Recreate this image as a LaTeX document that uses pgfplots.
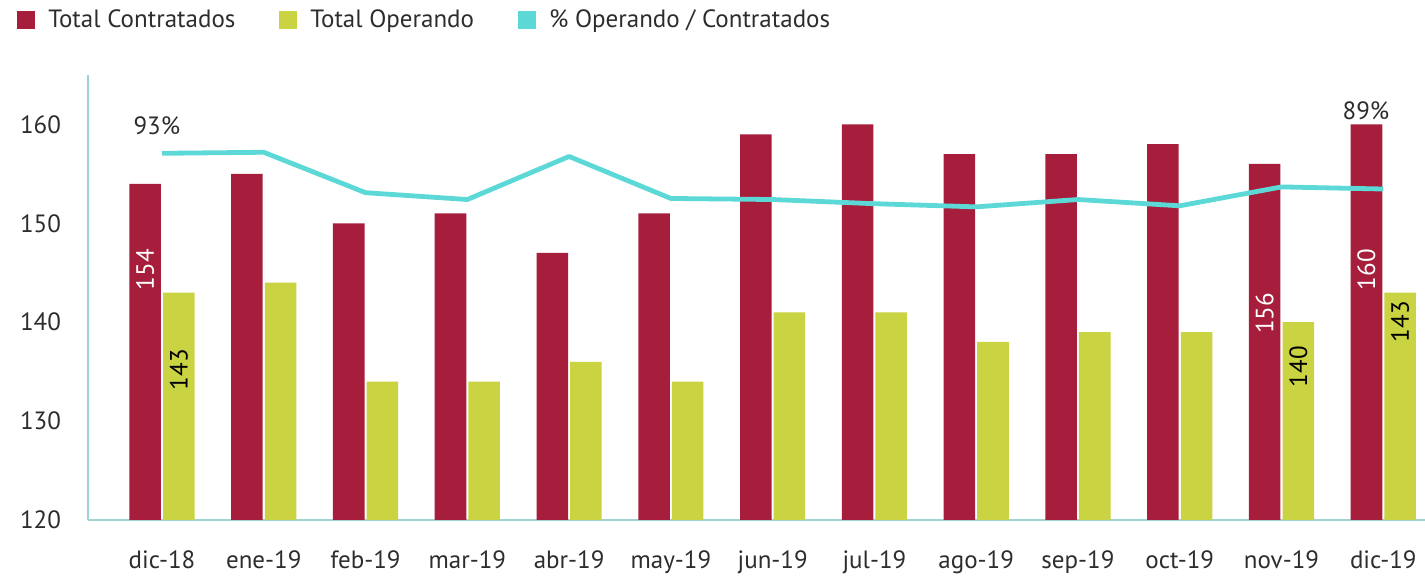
\documentclass[border=0pt]{standalone}
\usepackage{pgfplots}
\pgfplotsset{compat=1.18}
\usepackage{pgfplotstable}
\usepackage{fontspec}
\setmainfont{PT Sans}
\definecolor{cred}{RGB}{166,30,60}
\definecolor{cyel}{RGB}{202,211,66}
\definecolor{ccyan}{RGB}{92,216,214}
\definecolor{caxis}{RGB}{160,212,212}
\definecolor{ctext}{RGB}{45,45,45}

\pgfplotstableread{
x c o
0 154 143
1 155 144
2 150 134
3 151 134
4 147 136
5 151 134
6 159 141
7 160 141
8 157 138
9 157 139
10 158 139
11 156 140
12 160 143
}\data

\pgfplotstableread{
x p
0 92.9
1 93.0
2 89.15
3 88.5
4 92.6
5 88.6
6 88.5
7 88.1
8 87.8
9 88.5
10 87.9
11 89.7
12 89.5
}\pct

\begin{document}
\begin{tikzpicture}
\begin{axis}[
  at={(44pt,31pt)}, anchor=south west, scale only axis,
  width=668.5pt, height=222.5pt,
  xmin=-0.727, xmax=12.41, ymin=120, ymax=165,
  axis x line=bottom, axis y line=left,
  axis line style={caxis, line width=0.6pt, -},
  xtick={0,...,12},
  xticklabels={dic-18,ene-19,feb-19,mar-19,abr-19,may-19,jun-19,jul-19,ago-19,sep-19,oct-19,nov-19,dic-19},
  ytick={120,130,140,150,160},
  major tick length=0pt,
  tick label style={font=\fontsize{12.5}{15}\selectfont, text=ctext},
  /pgf/number format/assume math mode=true,
  yticklabel style={xshift=-10pt},
  xticklabel style={yshift=-12pt},
  legend style={at={(-0.0576,1.124)}, anchor=west, draw=none, fill=none,
    font=\fontsize{12.5}{15}\selectfont, text=ctext,
    /tikz/every even column/.append style={column sep=20pt}},
  legend columns=3,
  legend cell align=left,
]
\addplot[ybar, bar width=0.31, bar shift=-0.165, fill=cred, draw=none,
  legend image code/.code={\fill[cred,draw=none] (0pt,-4.5pt) rectangle (9pt,4.5pt); \path[draw=none,fill=none] (0pt,0pt) -- (13.5pt,0pt);}]
  table[x=x,y=c]{\data};
\addlegendentry{Total Contratados}
\addplot[ybar, bar width=0.31, bar shift=0.165, fill=cyel, draw=none,
  legend image code/.code={\fill[cyel,draw=none] (0pt,-4.5pt) rectangle (9pt,4.5pt); \path[draw=none,fill=none] (0pt,0pt) -- (13.5pt,0pt);}]
  table[x=x,y=o]{\data};
\addlegendentry{Total Operando\hspace{5pt}}
\addlegendimage{draw=none, legend image code/.code={\fill[ccyan,draw=none] (0pt,-4.5pt) rectangle (9pt,4.5pt); \path[draw=none,fill=none] (0pt,0pt) -- (13.5pt,0pt);}}
\addlegendentry{\% Operando / Contratados}

\node[rotate=90, text=white, font=\fontsize{12.5}{15}\selectfont] at (axis cs:-0.165,145.3) {154};
\node[rotate=90, text=black, font=\fontsize{12.5}{15}\selectfont] at (axis cs:0.165,135.2) {143};
\node[rotate=90, text=white, font=\fontsize{12.5}{15}\selectfont] at (axis cs:10.835,140.9) {156};
\node[rotate=90, text=black, font=\fontsize{12.5}{15}\selectfont] at (axis cs:11.165,135.5) {140};
\node[rotate=90, text=white, font=\fontsize{12.5}{15}\selectfont] at (axis cs:11.835,145.3) {160};
\node[rotate=90, text=black, font=\fontsize{12.5}{15}\selectfont] at (axis cs:12.165,140.05) {143};
\end{axis}

\begin{axis}[
  at={(44pt,31pt)}, anchor=south west, scale only axis,
  width=668.5pt, height=222.5pt,
  xmin=-0.727, xmax=12.41, ymin=57.98, ymax=100.36,
  hide x axis, hide y axis,
]
\addplot[ccyan, line width=2.4pt, line join=round] table[x=x,y=p]{\pct};
\node[text=ctext, font=\fontsize{12.5}{15}\selectfont] at (axis cs:-0.05,95.5) {93\%};
\node[text=ctext, font=\fontsize{12.5}{15}\selectfont] at (axis cs:11.83,97.0) {89\%};
\end{axis}
\pgfresetboundingbox
\useasboundingbox (0pt,0pt) rectangle (712.5pt,291pt);
\end{tikzpicture}
\end{document}
